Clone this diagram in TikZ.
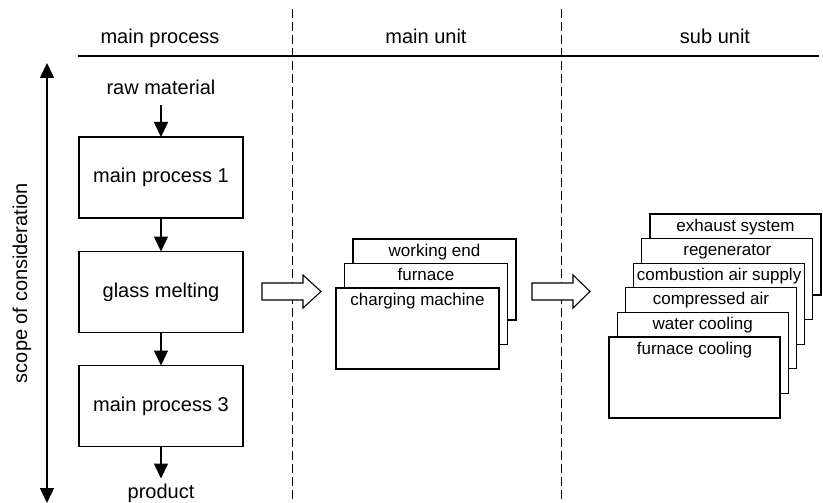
\documentclass[tikz,border=0pt]{standalone}
\usepackage{fontspec}
\setmainfont{Liberation Sans}
\usetikzlibrary{arrows.meta}
\begin{document}
\begin{tikzpicture}[x=1pt,y=-1pt,
  every node/.style={inner sep=0pt, outer sep=0pt},
  bigtext/.style={font=\fontsize{20}{24}\selectfont},
  smalltext/.style={font=\fontsize{17}{20}\selectfont},
  procbox/.style={draw, line width=1.1pt, minimum width=164pt, minimum height=81pt, bigtext},
  unitbox/.style={draw, fill=white, line width=1.1pt, minimum width=163pt, minimum height=81pt},
  subbox/.style={draw, fill=white, line width=1.1pt, minimum width=171pt, minimum height=81pt},
  flow/.style={line width=1.5pt, -{Triangle[length=15pt,width=14pt]}},
  divider/.style={line width=1pt, dash pattern=on 9pt off 4pt},
  hollow/.style={draw, fill=white, line width=1.1pt, line join=miter}
]
\useasboundingbox (0,0) rectangle (823,503);

% column headers and separators
\coordinate (hl) at (78,56);
\coordinate (hr) at (819,56);
\draw[line width=2pt] (hl) -- (hr);
\coordinate (d1t) at (292,9);  \coordinate (d1b) at (292,503);
\coordinate (d2t) at (561,9);  \coordinate (d2b) at (561,503);
\draw[divider] (d1t) -- (d1b);
\draw[divider] (d2t) -- (d2b);
\node[bigtext, anchor=base] (hmp) at (160,44) {main process};
\node[bigtext, anchor=base] (hmu) at (426,44) {main unit};
\node[bigtext, anchor=base] (hsu) at (715,44) {sub unit};

% scope of consideration
\coordinate (stop) at (47,63);
\coordinate (sbot) at (47,503);
\draw[line width=1.5pt, {Triangle[length=15pt,width=14pt]}-{Triangle[length=15pt,width=14pt]}] (stop) -- (sbot);
\node[bigtext, rotate=90] (scope) at (22,283) {scope of consideration};

% main process chain
\node[bigtext, anchor=base] (raw) at (161,95) {raw material};
\node[procbox] (mp1) at (161,177.5) {main process 1};
\node[procbox] (gm)  at (161,292) {glass melting};
\node[procbox] (mp3) at (161,406) {main process 3};
\node[bigtext, anchor=base] (prod) at (161,498) {product};
\draw[flow] ([yshift=-10pt]raw.south) -- (mp1.north);
\draw[flow] (mp1.south) -- (gm.north);
\draw[flow] (gm.south) -- (mp3.north);
\draw[flow] (mp3.south) -- ([yshift=5pt]prod.north);

% hollow arrows between columns
\draw[hollow] (262,283) -- (303,283) -- (303,275) -- (321,291.5) -- (303,308) -- (303,300) -- (262,300) -- cycle;
\draw[hollow] (532,283) -- (573,283) -- (573,275) -- (590,291.5) -- (573,308) -- (573,300) -- (532,300) -- cycle;

% main unit stack (back to front)
\node[unitbox] (we) at (434.5,279.5) {};
\node[smalltext, anchor=base] at ([yshift=-17pt]we.north) {working end};
\node[unitbox] (fu) at (426,304) {};
\node[smalltext, anchor=base] at ([yshift=-17pt]fu.north) {furnace};
\node[unitbox] (cm) at (417.5,328.5) {};
\node[smalltext, anchor=base] at ([yshift=-17pt]cm.north) {charging machine};

% sub unit stack (back to front)
\node[subbox] (es) at (735.5,254.5) {};
\node[smalltext, anchor=base] at ([yshift=-17pt]es.north) {exhaust system};
\node[subbox] (re) at (727.3,279.1) {};
\node[smalltext, anchor=base] at ([yshift=-17pt]re.north) {regenerator};
\node[subbox] (ca) at (719.1,303.7) {};
\node[smalltext, anchor=base] at ([yshift=-17pt]ca.north) {combustion air supply};
\node[subbox] (cp) at (710.9,328.3) {};
\node[smalltext, anchor=base] at ([yshift=-17pt]cp.north) {compressed air};
\node[subbox] (wc) at (702.7,352.9) {};
\node[smalltext, anchor=base] at ([yshift=-17pt]wc.north) {water cooling};
\node[subbox] (fc) at (694.5,377.5) {};
\node[smalltext, anchor=base] at ([yshift=-17pt]fc.north) {furnace cooling};
\end{tikzpicture}
\end{document}
